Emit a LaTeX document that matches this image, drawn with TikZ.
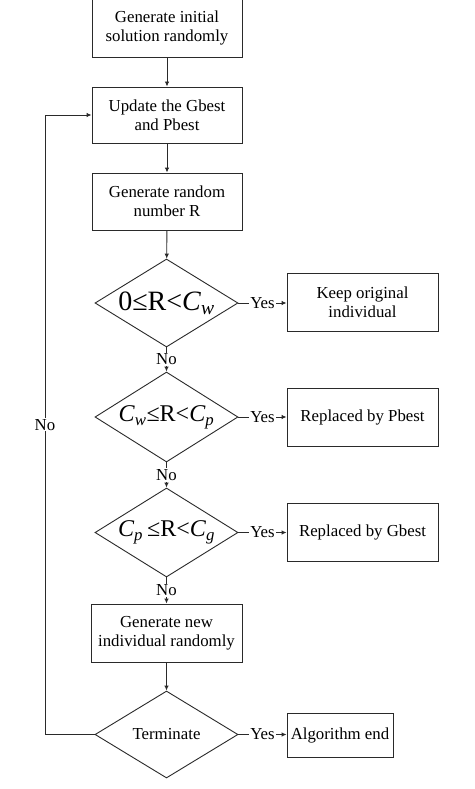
\documentclass[tikz,border=0pt]{standalone}
\usepackage{fontspec}
\setmainfont{Liberation Serif}
\usetikzlibrary{shapes.geometric,arrows.meta}
\definecolor{ln}{HTML}{2A2A2A}
\tikzset{
  every node/.style={font=\fontsize{16.8}{19}\selectfont, text=black},
  box/.style={draw=ln, line width=0.9pt, rectangle, inner sep=0pt, align=center},
  dia/.style={draw=ln, line width=0.9pt, diamond, inner sep=0pt, minimum width=143pt},
  conn/.style={draw=ln, line width=0.9pt, -{Latex[length=5pt,width=4.5pt]}},
  lab/.style={fill=white, inner sep=1pt}
}
\begin{document}
\begin{tikzpicture}[x=1pt,y=-1pt]
\useasboundingbox (0,0) rectangle (474,789);
\fill[white] (0,0) rectangle (474,789);
\node[box, minimum width=150pt, minimum height=58pt] (b1) at (167,28) {Generate initial\\solution randomly};
\node[box, minimum width=150pt, minimum height=56pt] (b2) at (167,115) {Update the Gbest\\and Pbest};
\node[box, minimum width=150pt, minimum height=57pt] (b3) at (167,201.5) {Generate random\\number R};
\node[dia, minimum height=88pt] (d1) at (166.5,303) {\makebox[0pt]{\fontsize{28}{30}\selectfont 0≤R<\textit{C}\textsubscript{\textit{w}}}};
\node[dia, minimum height=90pt] (d2) at (166.5,417) {\makebox[0pt]{\fontsize{24}{26}\selectfont \textit{C}\textsubscript{\textit{w}}≤R<\textit{C}\textsubscript{\textit{p}}}};
\node[dia, minimum height=89pt] (d3) at (166.5,532.5) {\makebox[0pt]{\fontsize{24}{26}\selectfont \textit{C}\textsubscript{\textit{p}}\,≤R<\textit{C}\textsubscript{\textit{g}}}};
\node[box, minimum width=151pt, minimum height=58pt] (b4) at (166.5,633) {Generate new\\individual randomly};
\node[dia, minimum height=87pt] (t) at (166.5,734.5) {\makebox[0pt]{Terminate}};
\node[box, minimum width=151pt, minimum height=58pt] (k) at (362.5,302) {Keep original\\individual};
\node[box, minimum width=151pt, minimum height=58pt] (p) at (362.5,417) {Replaced by Pbest};
\node[box, minimum width=151pt, minimum height=58pt] (g) at (362.5,532) {Replaced by Gbest};
\node[box, minimum width=106pt, minimum height=44pt] (e) at (340,735) {Algorithm end};
\coordinate (lp) at (45,734.5);
\coordinate (lq) at (45,115);
\draw[conn] (b1) -- (b2);
\draw[conn] (b2) -- (b3);
\draw[conn] (b3) -- (d1);
\draw[conn] (d1) -- node[lab]{No} (d2);
\draw[conn] (d2) -- node[lab]{No} (d3);
\draw[conn] (d3) -- node[lab]{No} (b4);
\draw[conn] (b4) -- (t);
\draw[conn] (d1.east) -- node[lab]{Yes} (d1.east -| k.west);
\draw[conn] (d2.east) -- node[lab]{Yes} (d2.east -| p.west);
\draw[conn] (d3.east) -- node[lab]{Yes} (d3.east -| g.west);
\draw[conn] (t.east) -- node[lab]{Yes} (t.east -| e.west);
\draw[draw=ln, line width=0.9pt] (t.west) -- (lp) -- node[lab]{No} (lq);
\draw[conn] (lq) -- (b2.west);
\end{tikzpicture}
\end{document}
